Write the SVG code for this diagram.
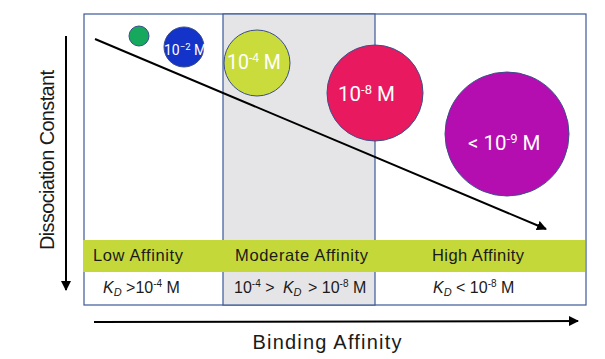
<svg xmlns="http://www.w3.org/2000/svg" width="605" height="359" viewBox="0 0 605 359">
<style>
.lbl{font-family:"Liberation Sans",Arial,sans-serif;fill:#1a1a1a}
.ct{font-family:Roboto,"Liberation Sans",sans-serif;fill:#ffffff}
.circ{stroke:#3b4f8a;stroke-width:1}
.ax{stroke:#000;stroke-width:2;fill:none}
</style>
<defs>
<marker id="ah" viewBox="0 0 10 10" refX="9" refY="5" markerWidth="5" markerHeight="5" orient="auto" markerUnits="strokeWidth">
<path d="M0,0 L10,5 L0,10 z" fill="#000"/>
</marker>
</defs>
<rect width="605" height="359" fill="#ffffff"/>
<g id="frame">
<rect x="84" y="14" width="502" height="291" fill="#ffffff" stroke="#3b5998" stroke-width="1.2"/>
<rect x="223" y="14" width="152" height="291" fill="#e5e5e7" stroke="#3b5998" stroke-width="1.2"/>
</g>
<g id="band">
<rect x="83" y="240" width="502" height="32" fill="#c5d83a"/>
<text class="lbl" x="93" y="261" font-size="16.5" textLength="90">Low Affinity</text>
<text class="lbl" x="235" y="261" font-size="16.5" textLength="133">Moderate Affinity</text>
<text class="lbl" x="432" y="261" font-size="16.5" textLength="92">High Affinity</text>
</g>
<g id="kd-row">
<text class="lbl" x="103" y="293" font-size="16"><tspan font-style="italic">K</tspan><tspan font-style="italic" font-size="11" dy="3">D</tspan><tspan dy="-3"> &gt;10</tspan><tspan font-size="10" dy="-6">-4</tspan><tspan dy="6"> M</tspan></text>
<text class="lbl" x="234" y="293" font-size="16">10<tspan font-size="10" dy="-6">-4</tspan><tspan dy="6"> &gt;  </tspan><tspan dx="4" font-style="italic">K</tspan><tspan font-style="italic" font-size="11" dy="3">D</tspan><tspan dy="-3" dx="2"> &gt; 10</tspan><tspan font-size="10" dy="-6">-8</tspan><tspan dy="6"> M</tspan></text>
<text class="lbl" x="433" y="293" font-size="16"><tspan font-style="italic">K</tspan><tspan font-style="italic" font-size="11" dy="3">D</tspan><tspan dy="-3"> &lt; 10</tspan><tspan font-size="10" dy="-6">-8</tspan><tspan dy="6"> M</tspan></text>
</g>
<g id="c-green"><circle class="circ" cx="139" cy="36" r="10" fill="#16a85c"/></g>
<g id="c-blue"><circle class="circ" cx="184" cy="47" r="20" fill="#1433c8"/>
<text class="ct" x="164" y="55" font-size="14">10<tspan font-size="9.5" dy="-5">−2</tspan><tspan dy="5"> M</tspan></text></g>
<g id="c-yellow"><circle class="circ" cx="257" cy="63" r="33" fill="#c9dc3c"/>
<text class="ct" x="227" y="69" font-size="19.5">10<tspan font-size="12" dy="-7">-4</tspan><tspan dy="7"> M</tspan></text></g>
<g id="c-pink"><circle class="circ" cx="375" cy="93" r="48" fill="#e8195f"/>
<text class="ct" x="338" y="101" font-size="20.5">10<tspan font-size="13" dy="-7">-8</tspan><tspan dy="7"> M</tspan></text></g>
<g id="c-purple"><circle class="circ" cx="507" cy="134" r="62" fill="#b40db0"/>
<text class="ct" x="468" y="150" font-size="20.5">&lt; 10<tspan font-size="13" dy="-7">-9</tspan><tspan dy="7"> M</tspan></text></g>
<g id="connectors">
<line class="ax" x1="95" y1="39" x2="546" y2="229" marker-end="url(#ah)"/>
<line class="ax" x1="66" y1="36" x2="66" y2="290" marker-end="url(#ah)"/>
<line class="ax" x1="94" y1="322" x2="578" y2="321" marker-end="url(#ah)"/>
</g>
<g id="axis-labels">
<text class="lbl" x="327" y="349" font-size="20" text-anchor="middle" textLength="149">Binding Affinity</text>
<text class="lbl" transform="translate(54,160) rotate(-90)" x="0" y="0" font-size="20" text-anchor="middle" textLength="180">Dissociation Constant</text>
</g>
</svg>
